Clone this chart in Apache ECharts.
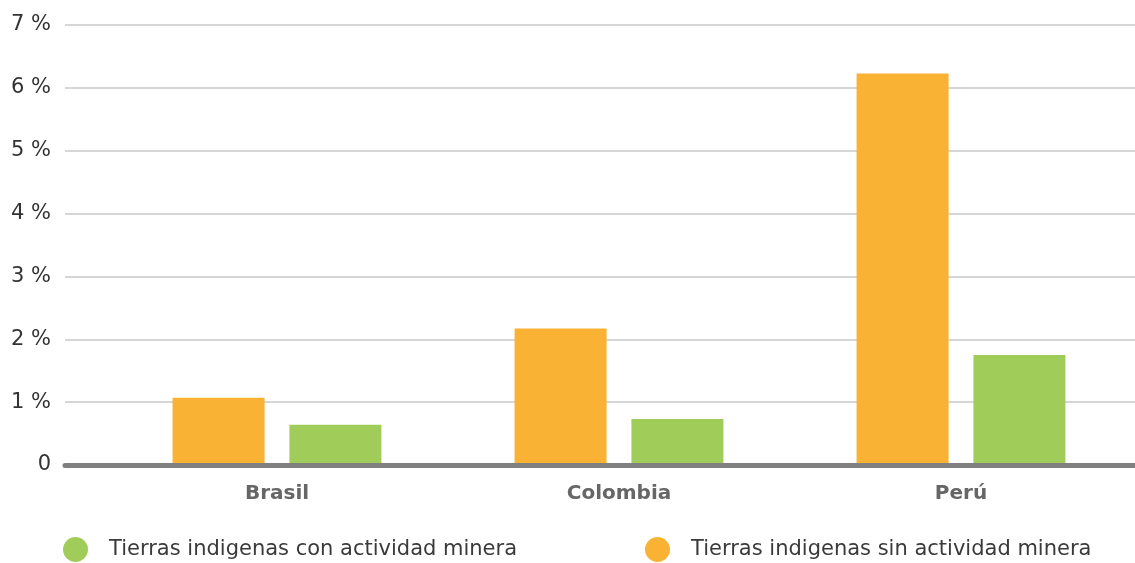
<!DOCTYPE html>
<html><head><meta charset="utf-8">
<script src="https://cdn.jsdelivr.net/npm/echarts@6/dist/echarts.min.js"></script>
<style>html,body{margin:0;padding:0;background:#fff}#c{width:1135px;height:563px}</style>
</head><body><div id="c"></div>
<script>
const categories = ['Brasil', 'Colombia', 'Perú'];
const sinActividad = [1.07, 2.17, 6.23];
const conActividad = [0.64, 0.73, 1.75];
const yTicks = [0, 1, 2, 3, 4, 5, 6, 7];
const nameCon = 'Tierras indigenas con actividad minera';
const nameSin = 'Tierras indigenas sin actividad minera';

const FONT = 'DejaVu Sans';
const chart = echarts.init(document.getElementById('c'));
const legendText = { color: '#3a3a3a', fontSize: 21, fontFamily: FONT, padding: [0, 0, 0, 16] };
chart.setOption({
  animation: false,
  textStyle: { fontFamily: FONT },
  grid: [
    { left: 65, right: 0, top: 25, bottom: 98 },
    { left: 106, right: 3, top: 25, bottom: 98 }
  ],
  xAxis: [
    { gridIndex: 0, type: 'value', min: 0, max: 1, axisLabel: { show: false }, axisTick: { show: false }, splitLine: { show: false },
      axisLine: { show: true, lineStyle: { color: '#808080', width: 5 } }, z: 5 },
    { gridIndex: 1, type: 'category', data: categories, axisLine: { show: false }, axisTick: { show: false },
      axisLabel: { color: '#666666', fontSize: 20, fontWeight: 'bold', margin: 19, fontFamily: FONT } }
  ],
  yAxis: [
    { gridIndex: 0, type: 'value', min: yTicks[0], max: yTicks[yTicks.length - 1], interval: 1,
      axisLine: { show: false }, axisTick: { show: false },
      axisLabel: { color: '#333333', fontSize: 21, margin: 14, formatter: v => v === 0 ? '0' : v + ' %' },
      splitLine: { show: true, lineStyle: { color: '#d6d6d6', width: 2 } } },
    { gridIndex: 1, type: 'value', min: 0, max: 7, interval: 1, show: false, splitLine: { show: false } }
  ],
  legend: [
    { data: [nameCon], left: 63, top: 537, padding: 0, icon: 'circle', itemWidth: 25, itemHeight: 25, itemGap: 10, textStyle: legendText },
    { data: [nameSin], left: 645, top: 537, padding: 0, icon: 'circle', itemWidth: 25, itemHeight: 25, itemGap: 10, textStyle: legendText }
  ],
  series: [
    { name: nameSin, type: 'bar', xAxisIndex: 1, yAxisIndex: 1, data: sinActividad, barWidth: 92, barGap: '27%',
      itemStyle: { color: '#F9B233' }, z: 3 },
    { name: nameCon, type: 'bar', xAxisIndex: 1, yAxisIndex: 1, data: conActividad, barWidth: 92, barGap: '27%',
      itemStyle: { color: '#A0CD5A' }, z: 3 }
  ]
});
</script></body></html>
